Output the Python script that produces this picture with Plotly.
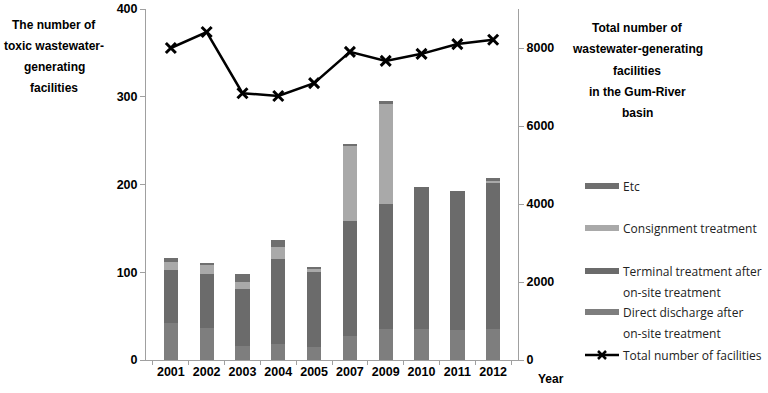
import plotly.graph_objects as go

years = ["2001", "2002", "2003", "2004", "2005", "2007", "2009", "2010", "2011", "2012"]
direct_discharge = [42, 36, 16.5, 18.5, 14.6, 27, 35, 35.5, 33.7, 35]
terminal_treatment = [60.7, 61.7, 64.3, 96.8, 85.4, 131.6, 142.8, 161.1, 159, 167.3]
consignment = [9.3, 11.3, 8.5, 13.4, 3.4, 86.2, 113.8, 0, 0, 1.9]
etc = [4, 1.7, 8.7, 8.1, 2.3, 1.2, 3, 0, 0, 3.5]
total_facilities = [8000, 8410, 6840, 6770, 7100, 7900, 7670, 7850, 8100, 8210]

left_title = ["The number of", "toxic wastewater-", "generating", "facilities"]
right_title = ["Total number of", "wastewater-generating", "facilities", "in the Gum-River", "basin"]

COL_DIRECT = "#7e7e7e"
COL_TERMINAL = "#6b6b6b"
COL_CONSIGN = "#a9a9a9"
COL_ETC = "#6f6f6f"

# plot area in pixels
L, R, T, B = 146, 518, 9, 360
W, H = R - L, B - T


def px(x):
    return (x - L) / W


def py(y):
    return (B - y) / H


fig = go.Figure()
bar_specs = [
    ("Direct discharge after on-site treatment", direct_discharge, COL_DIRECT),
    ("Terminal treatment after on-site treatment", terminal_treatment, COL_TERMINAL),
    ("Consignment treatment", consignment, COL_CONSIGN),
    ("Etc", etc, COL_ETC),
]
for name, vals, col in bar_specs:
    fig.add_trace(go.Bar(x=years, y=vals, name=name, marker=dict(color=col, line=dict(width=0)),
                         width=0.4, showlegend=False))

fig.add_trace(go.Scatter(x=years, y=total_facilities, name="Total number of facilities", yaxis="y2",
                         mode="lines+markers", line=dict(color="black", width=2.5),
                         marker=dict(symbol="x-thin-open", size=10, line=dict(color="black", width=3)),
                         showlegend=False))

FONT = "Liberation Sans"
tickf = dict(family=FONT, size=12.5, color="black", weight="bold")
fig.update_layout(
    width=768, height=393,
    margin=dict(l=L, r=768 - R, t=T, b=393 - B, autoexpand=False),
    paper_bgcolor="white", plot_bgcolor="white",
    barmode="stack",
    font=dict(family=FONT, size=12, color="black"),
    xaxis=dict(type="category", showline=True, linecolor="#a0a0a0", ticks="outside", tickson="boundaries",
               ticklen=4, tickcolor="#a0a0a0", tickfont=tickf, tickangle=0, showgrid=False, automargin=False),
    yaxis=dict(range=[0, 400], tickvals=[0, 100, 200, 300, 400], showline=True, linecolor="#a0a0a0",
               ticks="outside", ticklen=5, tickcolor="#a0a0a0", showgrid=False, zeroline=False,
               tickfont=tickf, automargin=False),
    yaxis2=dict(range=[0, 9000], tickvals=[0, 2000, 4000, 6000, 8000], overlaying="y", side="right",
                showline=True, linecolor="#a0a0a0", ticks="outside", ticklen=5, tickcolor="#a0a0a0",
                showgrid=False, zeroline=False, tickfont=tickf, automargin=False),
    showlegend=False,
)

titlef = dict(family=FONT, size=12, color="black", weight="bold")
for i, line in enumerate(left_title):
    fig.add_annotation(text=line, xref="paper", yref="paper", x=px(54), y=py(25 + 21 * i),
                       xanchor="center", yanchor="middle", showarrow=False, font=titlef)
for i, line in enumerate(right_title):
    fig.add_annotation(text=line, xref="paper", yref="paper", x=px(637), y=py(28 + 21.3 * i),
                       xanchor="center", yanchor="middle", showarrow=False, font=titlef)
fig.add_annotation(text="Year", xref="paper", yref="paper", x=px(536), y=py(379), xanchor="left",
                   yanchor="middle", showarrow=False, font=titlef)

# custom legend
legf = dict(family="Open Sans", size=12, color="#222222")
legend_items = [
    ("Etc", COL_ETC, [186]),
    ("Consignment treatment", COL_CONSIGN, [228]),
    ("Terminal treatment after", COL_TERMINAL, [271, 292]),
    ("Direct discharge after", COL_DIRECT, [312, 333]),
]
legend_second = {"Terminal treatment after": "on-site treatment", "Direct discharge after": "on-site treatment"}
for label, col, ys in legend_items:
    y0 = ys[0]
    fig.add_shape(type="rect", xref="paper", yref="paper", x0=px(585), x1=px(619), y0=py(y0 + 3), y1=py(y0 - 3),
                  fillcolor=col, line=dict(width=0), layer="above")
    fig.add_annotation(text=label, xref="paper", yref="paper", x=px(621), y=py(y0), xanchor="left",
                       yanchor="middle", showarrow=False, font=legf)
    if label in legend_second:
        fig.add_annotation(text=legend_second[label], xref="paper", yref="paper", x=px(621), y=py(ys[1]),
                           xanchor="left", yanchor="middle", showarrow=False, font=legf)

# line legend entry
ly = 355
fig.add_shape(type="line", xref="paper", yref="paper", x0=px(585), x1=px(619), y0=py(ly), y1=py(ly),
              line=dict(color="black", width=2.5))
for dx, dy in [(4, 4), (4, -4)]:
    fig.add_shape(type="line", xref="paper", yref="paper", x0=px(602 - dx), x1=px(602 + dx),
                  y0=py(ly - dy), y1=py(ly + dy), line=dict(color="black", width=2.5))
fig.add_annotation(text="Total number of facilities", xref="paper", yref="paper", x=px(621), y=py(ly),
                   xanchor="left", yanchor="middle", showarrow=False, font=legf)

fig.write_html("out.html", config={"displayModeBar": False},
               post_script="document.body.style.margin='0';document.body.style.overflow='hidden';")
